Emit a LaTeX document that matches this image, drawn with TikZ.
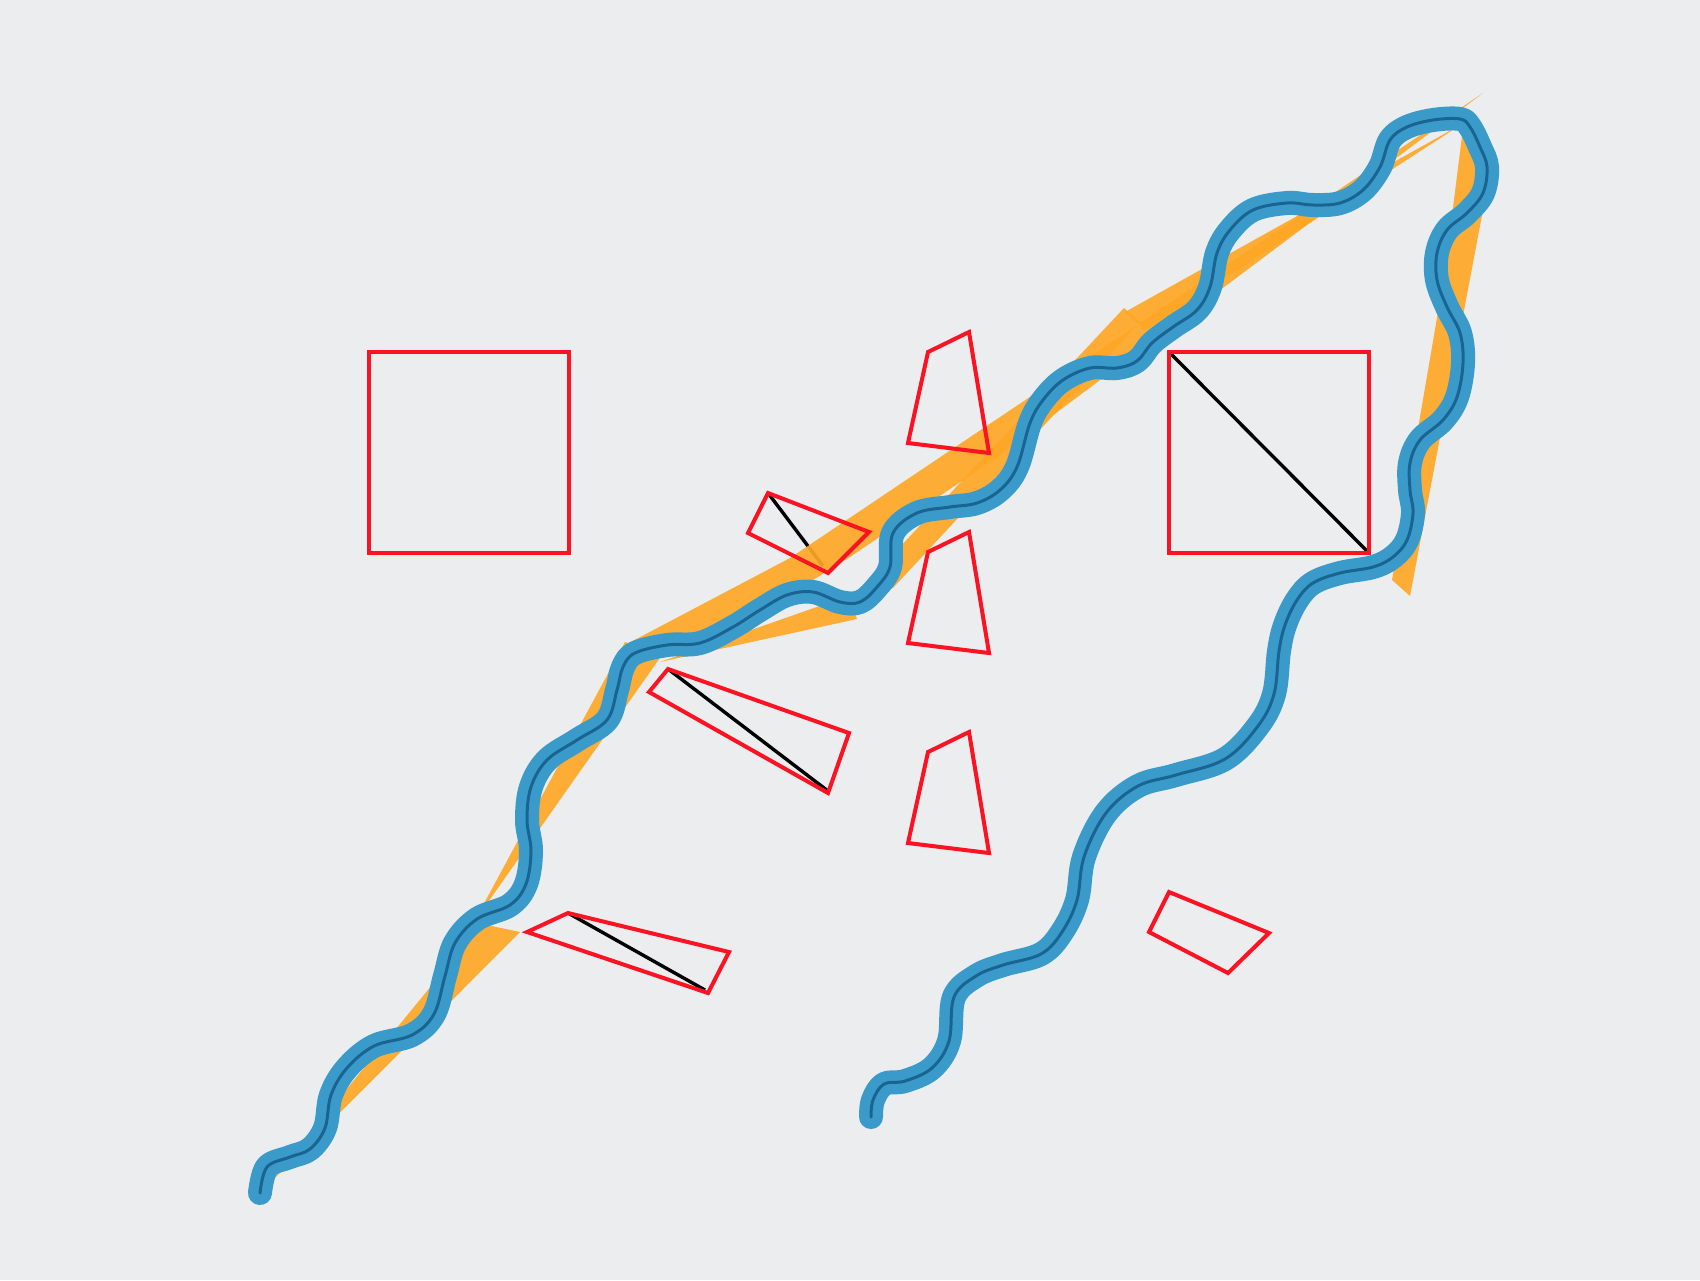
\documentclass[tikz,border=0pt]{standalone}
\definecolor{bgc}{RGB}{235,237,239}
\definecolor{redc}{RGB}{250,20,35}
\definecolor{orc}{RGB}{255,167,38}
\definecolor{bluc}{RGB}{58,155,203}
\definecolor{bluk}{RGB}{26,100,145}
\begin{document}
\begin{tikzpicture}[x=0.5pt,y=-0.5pt,
  quad/.style={draw=redc, line width=2pt, line join=miter},
  diag/.style={draw=black, line width=1.7pt},
  wedge/.style={fill=orc, fill opacity=0.92},
  snake/.style={draw=bluc, line width=12pt, line cap=round, line join=round,
     postaction={draw=bluk, line width=1.5pt, line cap=round}}]
\fill[bgc] (0,0) rectangle (1700,1280);
\useasboundingbox (0,0) rectangle (1700,1280);
% black diagonals
\draw[diag] (1169,352) -- (1369,553);
\draw[diag] (768,493) -- (823,566);
\draw[diag] (668,669) -- (828,791);
\draw[diag] (568,913) -- (705,990);
% orange wedges
\fill[wedge] (268,1185) -- (482,924) -- (520,932) -- cycle;
\fill[wedge] (474,922) -- (625,642) -- (662,655) -- cycle;
\fill[wedge] (625,645) -- (790,558) -- (1000,417) -- (1483,93) -- (1000,455) -- (850,557) -- (700,650) -- cycle;
\fill[wedge] (660,662) -- (848,596) -- (857,619) -- cycle;
\fill[wedge] (852,598) -- (1124,308) -- (1140,322) -- (893,588) -- cycle;
\fill[wedge] (1462,124) -- (1125,312) -- (1145,330) -- cycle;
\fill[wedge] (1463,128) -- (1474,126) -- (1483,210) -- (1410,596) -- (1392,580) -- (1445,271) -- cycle;
% red shapes
\draw[quad] (369,352) rectangle (569,553);
\draw[quad] (1169,352) rectangle (1369,553);
\draw[quad] (928,352) -- (969,332) -- (989,453) -- (908,443) -- cycle;
\draw[quad] (928,552) -- (969,532) -- (989,653) -- (908,643) -- cycle;
\draw[quad] (928,752) -- (969,732) -- (989,853) -- (908,843) -- cycle;
\draw[quad] (768,493) -- (869,532) -- (828,573) -- (748,533) -- cycle;
\draw[quad] (668,669) -- (849,733) -- (828,793) -- (649,692) -- cycle;
\draw[quad] (568,913) -- (729,952) -- (708,993) -- (527,932) -- cycle;
\draw[quad] (1169,892) -- (1269,933) -- (1228,973) -- (1149,932) -- cycle;
% blue wave
\draw[snake] plot[smooth, tension=0.6] coordinates {
(260,1193) (267,1167) (290,1157) (310,1149) (325,1128) (331,1095) (347,1068)
(374,1046) (412,1035) (434,1014) (445,976) (455,943) (477,919) (510,905)
(526,884) (531,851) (527,820) (531,787) (547,760) (577,740) (607,720)
(617,690) (623,667) (635,653) (667,645) (700,643) (733,627) (760,610)
(787,595) (813,592) (840,602) (860,602) (877,587) (890,567) (893,533)
(917,513) (950,507) (977,503) (1000,490) (1017,467) (1030,423) (1043,400)
(1063,380) (1090,368) (1117,368) (1137,361) (1152,343) (1173,327) (1197,310)
(1210,287) (1217,253) (1230,230) (1253,210) (1287,203) (1313,205) (1340,203)
(1363,190) (1380,167) (1390,140) (1407,127) (1433,120) (1460,119) (1470,127)
(1480,147) (1487,167) (1483,193) (1467,213) (1447,230) (1437,253) (1437,280)
(1447,307) (1460,333) (1463,363) (1457,397) (1443,420) (1420,440) (1410,463)
(1410,490) (1413,513) (1407,540) (1393,557) (1373,567) (1340,573) (1313,583)
(1297,600) (1285,625) (1279,651) (1274,694) (1258,726) (1225,759) (1176,775)
(1138,786) (1106,813) (1084,857) (1077,900) (1062,932) (1041,954) (1003,965)
(976,976) (954,997) (949,1041) (932,1068) (905,1081) (884,1084) (873,1100)
(871,1117)};
\end{tikzpicture}
\end{document}
